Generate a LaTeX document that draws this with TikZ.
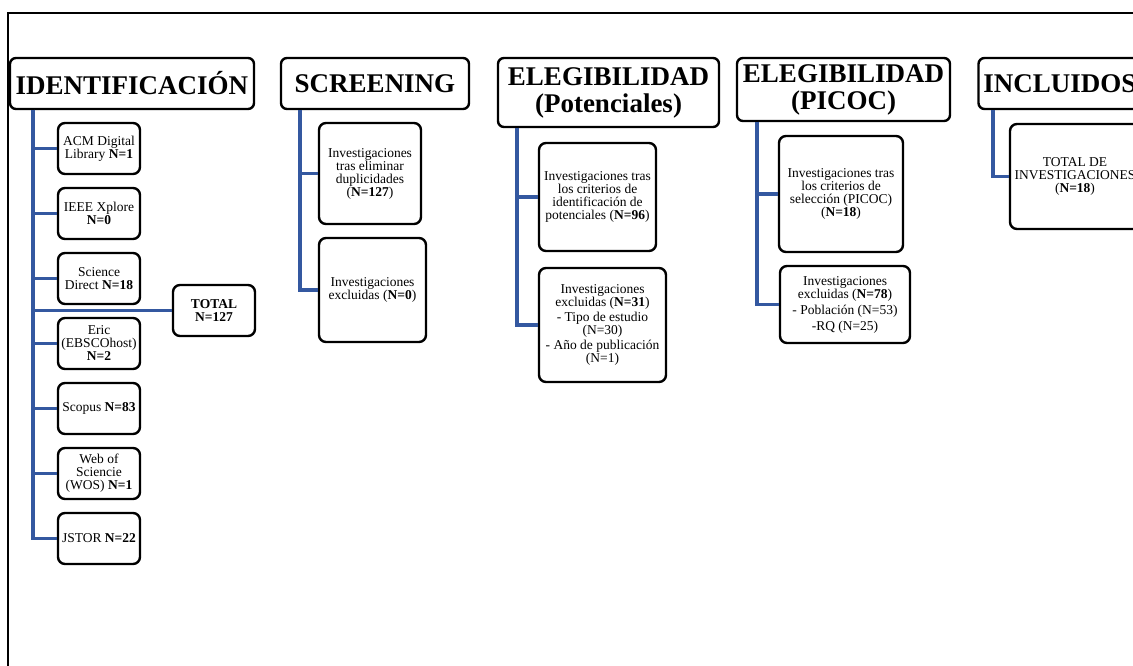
\documentclass[tikz,border=0pt]{standalone}
\usepackage{fontspec}
\setmainfont{Liberation Serif}
\usetikzlibrary{positioning}
\definecolor{lineblue}{RGB}{52,88,160}
\tikzset{
    x=1pt,y=-1pt,node distance =11.6pt and 11.6pt,
    hdr/.style ={draw, rounded corners=6pt, line width=2.4pt, align=center, inner sep=0pt,
                 font=\fontsize{27}{27}\selectfont\bfseries},
    box/.style ={draw, rounded corners=7pt, line width=2.4pt, align=center, inner sep=0pt,
                 font=\fontsize{13.5}{13}\selectfont},
    src/.style ={box, minimum width=82pt, minimum height=51pt},
    branch/.style={draw=lineblue, line width=3.2pt}
}
\begin{document}
\begin{tikzpicture}
    \useasboundingbox (0,0) rectangle (1133,666);
    \draw[line width=1.5pt] (8,700) |- (1160,13);

    % headers
    \node[hdr, minimum width=244pt, minimum height=51pt] (idh) at (132,83.5) {IDENTIFICACIÓN};
    \node[hdr, minimum width=188pt, minimum height=51pt] (scrh) at (375,83.5) {SCREENING};
    \node[hdr, minimum width=221pt, minimum height=69pt] (poth) at (608.5,92.5) {ELEGIBILIDAD\\(Potenciales)};
    \node[hdr, minimum width=213pt, minimum height=63pt] (pich) at (843.5,89.5) {ELEGIBILIDAD\\(PICOC)};
    \node[hdr, minimum width=163pt, minimum height=51pt] (inch) at (1060,83.5) {INCLUIDOS};

    % identificacion
    \node[src] (acm) at (99,148.5) {ACM Digital\\Library \textbf{N=1}};
    \node[src] (ieee) [below =of acm] {IEEE Xplore\\\textbf{N=0}};
    \node[src] (sd) [below =of ieee] {Science\\Direct \textbf{N=18}};
    \node[src] (eric) [below =of sd] {Eric\\(EBSCOhost)\\\textbf{N=2}};
    \node[src] (scopus) [below =of eric] {Scopus \textbf{N=83}};
    \node[src] (wos) [below =of scopus] {Web of\\Sciencie\\(WOS) \textbf{N=1}};
    \node[src] (jstor) [below =of wos] {JSTOR \textbf{N=22}};
    \node[src] (total) at (214,310.5) {\textbf{TOTAL}\\\textbf{N=127}};

    % screening
    \node[box, minimum width=102pt, minimum height=101pt] (scr1) at (370,173.5)
        {Investigaciones\\tras eliminar\\duplicidades\\(\textbf{N=127})};
    \node[box, minimum width=107pt, minimum height=104pt] (scr2) [below =of scr1, xshift=2.5pt]
        {Investigaciones\\excluidas (\textbf{N=0})};

    % elegibilidad (potenciales)
    \node[box, minimum width=117pt, minimum height=108pt] (pot1) at (597.5,197)
        {Investigaciones tras\\los criterios de\\identificación de\\potenciales (\textbf{N=96})};
    \node[box, minimum width=127pt, minimum height=114pt] (pot2) [below =14.6pt of pot1, xshift=5pt]
        {Investigaciones\\excluidas (\textbf{N=31})\\[2pt]- Tipo de estudio\\(N=30)\\[2pt]- Año de publicación\\(N=1)};

    % elegibilidad (picoc)
    \node[box, minimum width=124pt, minimum height=116pt] (pic1) at (841,194)
        {Investigaciones tras\\los criterios de\\selección (PICOC)\\(\textbf{N=18})};
    \node[box, minimum width=130pt, minimum height=77pt] (pic2) [below =of pic1, xshift=4pt]
        {Investigaciones\\excluidas (\textbf{N=78})\\[3pt]- Población (N=53)\\[3pt]-RQ (N=25)};

    % incluidos
    \node[box, minimum width=130pt, minimum height=105pt] (inc1) at (1075,176.5)
        {TOTAL DE\\INVESTIGACIONES\\(\textbf{N=18})};

    % trunks
    \coordinate (idt) at (33,110);
    \coordinate (scrt) at (300,110);
    \coordinate (pott) at (517,128);
    \coordinate (pict) at (757,122);
    \coordinate (inct) at (993,110);

    \draw[branch] (idt) |- (acm);
    \draw[branch] (idt) |- (ieee);
    \draw[branch] (idt) |- (sd);
    \draw[branch] (idt) |- (total);
    \draw[branch] (idt) |- (eric);
    \draw[branch] (idt) |- (scopus);
    \draw[branch] (idt) |- (wos);
    \draw[branch] (idt) |- (jstor);
    \draw[branch] (scrt) |- (scr1);
    \draw[branch] (scrt) |- (scr2);
    \draw[branch] (pott) |- (pot1);
    \draw[branch] (pott) |- (pot2);
    \draw[branch] (pict) |- (pic1);
    \draw[branch] (pict) |- (pic2);
    \draw[branch] (inct) |- (inc1);
\end{tikzpicture}
\end{document}
